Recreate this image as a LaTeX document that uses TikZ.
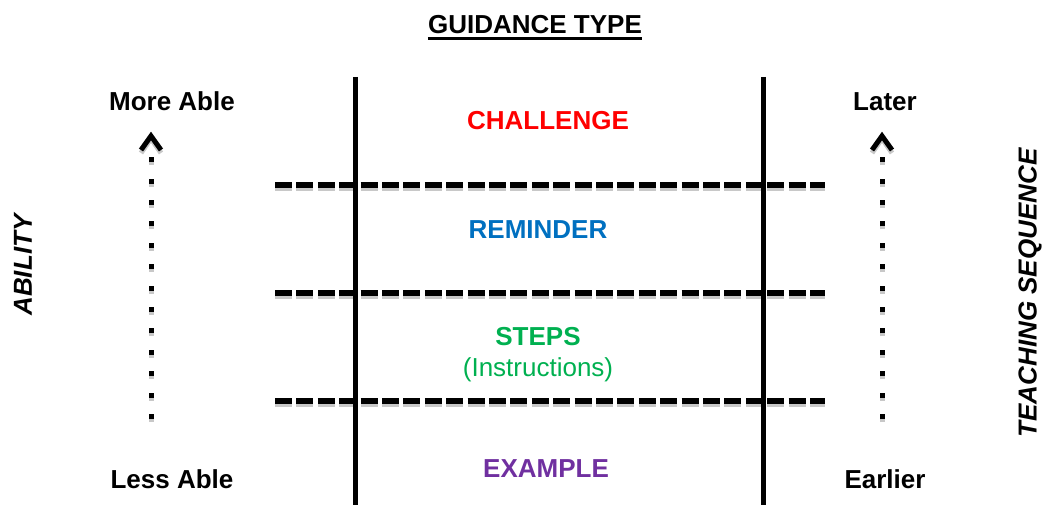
\documentclass[tikz,border=0pt]{standalone}
\usepackage{fontspec}
\setmainfont{Liberation Sans}
\usetikzlibrary{positioning}
\definecolor{chalred}{RGB}{255,0,0}
\definecolor{remblue}{RGB}{0,112,192}
\definecolor{stepgreen}{RGB}{0,176,80}
\definecolor{exmpurple}{RGB}{112,48,160}
\definecolor{shadowgrey}{RGB}{200,200,200}

\begin{document}
\begin{tikzpicture}[x=1pt,y=-1pt,
  lbl/.style={font=\fontsize{26}{30}\selectfont\bfseries, inner sep=0pt, anchor=base},
  side/.style={lbl, font=\fontsize{26}{30}\selectfont\bfseries\itshape, rotate=90, anchor=center},
  bar/.style={line width=5pt},
  divider/.style={line width=5.5pt, dash pattern=on 17pt off 4.4pt},
  seq/.style={line width=5pt, dash pattern=on 5pt off 16.4pt},
  chevron/.style={line width=5pt, line join=miter},
  ghost/.style={draw=shadowgrey}]
\useasboundingbox (0,0) rectangle (1045,505);

% title
\node[lbl] (guide) at (535,34) {GUIDANCE TYPE};
\draw[line width=3pt] ([yshift=-4.5pt]guide.base west) -- ([yshift=-4.5pt]guide.base east);

% rows, with their grey shadow first
\foreach \r/\y in {a/185,b/293,c/401}{
  \coordinate (row\r-l) at (275,\y); \coordinate (row\r-r) at (825,\y);
  \draw[divider, ghost] ([yshift=-3pt]row\r-l) -- ([yshift=-3pt]row\r-r);
  \draw[divider] (row\r-l) -- (row\r-r);
}
% columns
\coordinate (lefttop) at (355,77);  \coordinate (leftbot) at (355,505);
\coordinate (righttop) at (763,77); \coordinate (rightbot) at (763,505);
\draw[bar] (lefttop) -- (leftbot);
\draw[bar] (righttop) -- (rightbot);

% guidance levels
\node[lbl, text=chalred] (challenge) at (548,130) {CHALLENGE};
\node[lbl, text=remblue] (reminder) at (538,239) {REMINDER};
\node[lbl, text=stepgreen] (steps) at (538,345) {STEPS};
\node[lbl, text=stepgreen, font=\fontsize{26}{30}\selectfont] (instr) at (538,376) {(Instructions)};
\node[lbl, text=exmpurple] (example) at (546,477) {EXAMPLE};

% ability axis
\node[lbl] (moreable) at (172,111) {More Able};
\node[lbl] (lessable) at (172,488) {Less Able};
\node[side] (ability) at (23,265) {ABILITY};

% teaching sequence axis
\node[lbl] (later) at (885,111) {Later};
\node[lbl] (earlier) at (885,488) {Earlier};
\node[side] (teaching) at (1030,293) {TEACHING SEQUENCE};

% dotted arrows
\foreach \a/\x in {able/151,seq/882}{
  \coordinate (\a low) at (\x,419); \coordinate (\a high) at (\x,155); \coordinate (\a tip) at (\x,136);
  \draw[seq, ghost] ([yshift=-3pt]\a low) -- ([yshift=-3pt]\a high);
  \draw[seq] (\a low) -- (\a high);
  \draw[chevron, ghost] ([shift={(-10,17)}]\a tip) -- ([yshift=-2.5pt]\a tip) -- ([shift={(10,17)}]\a tip);
  \draw[chevron] ([shift={(-10,14)}]\a tip) -- (\a tip) -- ([shift={(10,14)}]\a tip);
}
\end{tikzpicture}
\end{document}
